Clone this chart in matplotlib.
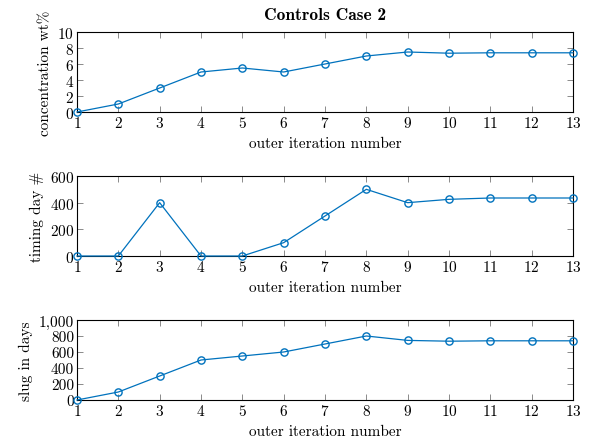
import matplotlib
matplotlib.use("Agg")
import matplotlib.pyplot as plt
from matplotlib.ticker import FuncFormatter, MultipleLocator

plt.rcParams["font.family"] = ["cmr10", "DejaVu Serif"]
plt.rcParams["mathtext.fontset"] = "cm"
plt.rcParams["axes.formatter.use_mathtext"] = True

iterations = list(range(1, 14))
concentration = [0, 1, 3, 5, 5.5, 5, 6, 7, 7.5, 7.35, 7.4, 7.4, 7.4]
timing_day = [0, 0, 400, 0, 0, 100, 300, 500, 400, 425, 435, 435, 435]
slug_days = [0, 100, 300, 500, 550, 600, 700, 800, 745, 735, 740, 740, 740]

ylabels = ["concentration wt%", "timing day #", "slug in days"]
ylims = [(0, 10), (0, 600), (0, 1000)]
ysteps = [2, 200, 200]
xlabel = "outer iteration number"
title = "Controls Case 2"

color = "#0072BD"
fig = plt.figure(figsize=(5.89, 4.39), dpi=100)

left, width, height = 77 / 589, 496 / 589, 80 / 439
bottoms = [1 - 113 / 439, 1 - 257 / 439, 1 - 401 / 439]
series = [concentration, timing_day, slug_days]

for i, (ys, lab, lim, step, b) in enumerate(zip(series, ylabels, ylims, ysteps, bottoms)):
    ax = fig.add_axes([left, b, width, height])
    ax.plot(iterations, ys, color=color, lw=0.9, marker="o", ms=5.2,
            mfc="none", mec=color, mew=1.0, clip_on=False, zorder=3)
    ax.set_xlim(1, 13)
    ax.set_ylim(*lim)
    ax.set_xticks(iterations)
    ax.yaxis.set_major_locator(MultipleLocator(step))
    if i == 2:
        ax.yaxis.set_major_formatter(FuncFormatter(lambda v, p: f"{int(v):,}"))
    ax.tick_params(direction="in", top=True, right=True, length=4, width=0.6,
                   color="#777777", labelsize=11, pad=2)
    for s in ax.spines.values():
        s.set_linewidth(0.8)
    ax.set_ylabel(lab, fontsize=11, labelpad=4)
    ax.set_xlabel(xlabel, fontsize=11, labelpad=4.5)
    if i == 0:
        ax.set_title(title, fontsize=12.5, fontfamily="cmb10", pad=9)

fig.savefig("out.png", dpi=100)
